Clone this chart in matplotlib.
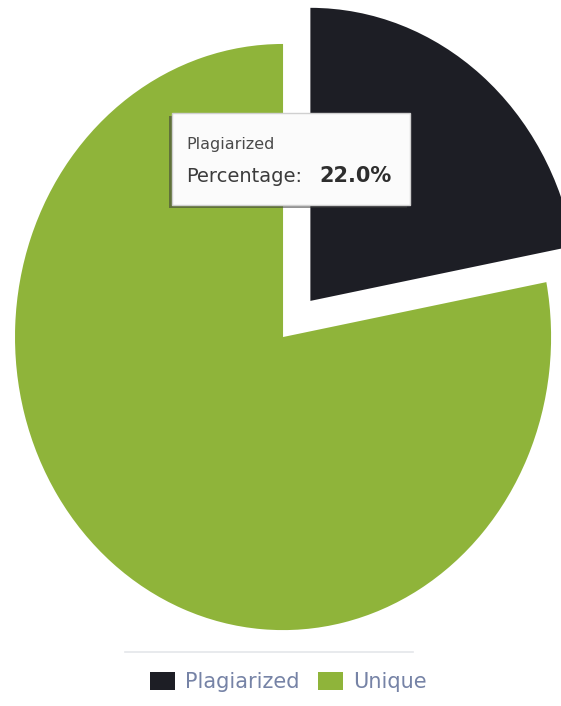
import matplotlib
matplotlib.use("Agg")
import matplotlib.pyplot as plt
from matplotlib.patches import FancyBboxPatch

# chart data
labels = ["Plagiarized", "Unique"]
shares = [22.0, 78.0]
colors = ["#1d1e25", "#8fb43a"]
explode = [0.16, 0.0]

tip_label = "Plagiarized"
tip_value = "22.0%"

fig = plt.figure(figsize=(5.61, 7.06), dpi=100)
fig.patch.set_facecolor("white")

# pie axes, limits chosen so the (stretched) pie lands where it is in the picture
ax = fig.add_axes([0, 0, 1, 1])
wedges, _ = ax.pie(shares, colors=colors, explode=explode, startangle=90,
                   counterclock=False, wedgeprops=dict(linewidth=0))
ax.set_aspect("auto")
ax.set_xlim(-1.056, 1.037)
ax.set_ylim(-1.259, 1.150)
ax.axis("off")

leg = ax.legend(wedges, labels, loc="center", bbox_to_anchor=(0.514, 0.034),
                bbox_transform=fig.transFigure, ncol=2, frameon=False,
                fontsize=15, handlelength=1.2, handleheight=0.95,
                handletextpad=0.5, columnspacing=0.85)
for t in leg.get_texts():
    t.set_color("#7683a6")

# overlay in pixel coordinates for the tooltip and the legend rule
ov = fig.add_axes([0, 0, 1, 1], zorder=5)
ov.set_xlim(0, 561)
ov.set_ylim(706, 0)
ov.axis("off")

ov.plot([125, 413], [652, 652], color="#e4e6ea", lw=1.2)

# tooltip with a small shadow
shadow = FancyBboxPatch((169, 116), 238, 92, boxstyle="square,pad=0",
                        facecolor="#3a3a3a", edgecolor="none", alpha=0.55)
ov.add_patch(shadow)
box = FancyBboxPatch((172, 113), 238, 92, boxstyle="square,pad=0",
                     facecolor="#fbfbfb", edgecolor="#d0d0d0", lw=1)
ov.add_patch(box)
ov.text(186, 145, tip_label, fontsize=11.5, color="#4a4a4a", va="center", ha="left")
ov.text(186, 176, "Percentage:", fontsize=14, color="#3c3c3c", va="center", ha="left")
ov.text(319, 176, tip_value, fontsize=15, color="#2e2e2e", va="center", ha="left",
        fontweight="bold")

fig.savefig("out.png", dpi=100, facecolor="white")
